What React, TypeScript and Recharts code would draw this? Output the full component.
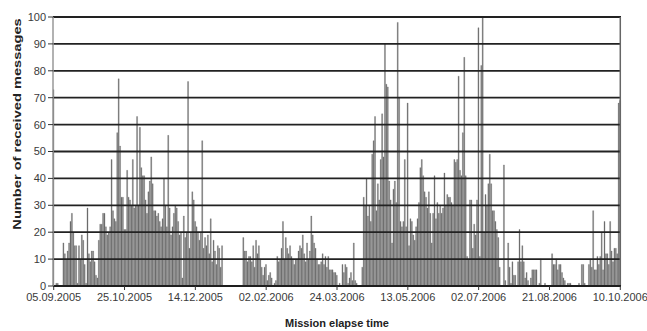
import React, { ReactElement } from 'react';
import { BarChart, Bar, XAxis, YAxis, ReferenceLine, Label } from 'recharts';

// daily message counts, one block of 50 days per x tick (05.09.2005 .. 10.10.2006)
const block0 = [73, 0, 1, 1, 0, 0, 0, 16, 12, 10, 13, 16, 24, 27, 20, 15, 15, 1, 15, 10, 19, 17, 8, 1, 29, 12, 9, 13, 13, 9, 4, 3, 17, 23, 23, 27, 27, 22, 19, 20, 22, 47, 28, 25, 24, 57, 77, 52, 33, 33];
const block1 = [21, 21, 43, 33, 32, 30, 47, 29, 30, 63, 30, 59, 44, 41, 41, 32, 27, 35, 39, 48, 38, 28, 28, 26, 27, 24, 22, 25, 40, 30, 22, 56, 29, 19, 22, 27, 30, 29, 24, 19, 20, 3, 26, 18, 20, 76, 14, 20, 35, 32];
const block2 = [24, 22, 20, 17, 20, 54, 14, 18, 15, 19, 12, 25, 9, 17, 13, 8, 15, 14, 7, 15, 0, 0, 0, 0, 0, 0, 0, 0, 0, 0, 0, 0, 0, 0, 18, 13, 13, 9, 11, 11, 9, 15, 7, 17, 12, 15, 10, 7, 4, 7];
const block3 = [8, 2, 4, 5, 3, 0, 1, 2, 11, 9, 10, 14, 24, 10, 18, 14, 12, 15, 11, 10, 8, 10, 10, 13, 15, 14, 19, 12, 9, 16, 10, 13, 26, 19, 16, 14, 10, 8, 8, 9, 12, 8, 11, 7, 11, 6, 6, 6, 5, 5];
const block4 = [4, 0, 1, 0, 8, 5, 8, 7, 1, 3, 5, 2, 16, 2, 1, 0, 0, 0, 7, 33, 30, 40, 26, 30, 24, 49, 54, 63, 28, 38, 32, 47, 64, 48, 90, 75, 74, 39, 32, 16, 36, 39, 31, 98, 70, 24, 22, 24, 47, 22];
const block5 = [68, 15, 25, 24, 19, 17, 22, 25, 31, 44, 47, 41, 35, 33, 29, 35, 27, 16, 27, 41, 25, 31, 27, 30, 27, 29, 42, 30, 34, 33, 33, 31, 30, 47, 46, 47, 78, 43, 41, 57, 85, 41, 11, 10, 32, 32, 14, 23, 19, 32];
const block6 = [96, 11, 82, 100, 20, 34, 30, 38, 49, 38, 28, 28, 24, 21, 18, 7, 0, 0, 45, 2, 0, 16, 7, 1, 9, 4, 4, 0, 9, 21, 9, 15, 9, 3, 5, 2, 0, 3, 6, 6, 6, 6, 0, 1, 10, 0, 0, 1, 0, 0];
const block7 = [0, 0, 12, 8, 8, 10, 6, 8, 8, 5, 3, 2, 0, 1, 1, 1, 0, 0, 0, 0, 0, 1, 0, 8, 8, 1, 0, 0, 8, 10, 7, 28, 6, 6, 11, 8, 11, 20, 6, 24, 12, 12, 8, 24, 13, 9, 14, 14, 12, 68];
const lastDay = [69];

const tickLabels = ['05.09.2005', '25.10.2005', '14.12.2005', '02.02.2006', '24.03.2006', '13.05.2006', '02.07.2006', '21.08.2006', '10.10.2006'];
const yTicks = [0, 10, 20, 30, 40, 50, 60, 70, 80, 90, 100];

const counts = [...block0, ...block1, ...block2, ...block3, ...block4, ...block5, ...block6, ...block7, ...lastDay];
const data = counts.map((v, i) => ({ day: i, messages: v }));

const font = '"Liberation Sans", Arial, sans-serif';

function App(): ReactElement {
  return (
    <div style={{ position: 'absolute', left: 0, top: 0, background: '#fff' }}>
      <BarChart
        width={647}
        height={331}
        data={data}
        margin={{ top: 17, right: 26, bottom: 0, left: 0 }}
        barCategoryGap={0}
        style={{ fontFamily: font }}
      >
        <XAxis
          dataKey="day"
          type="category"
          interval={49}
          height={45}
          tickFormatter={(d) => tickLabels[Math.round(Number(d) / 50)] ?? ''}
          tick={{ fontSize: 11, fill: '#3a3a3a', fontFamily: font }}
          tickSize={4}
          tickMargin={3}
          tickLine={{ stroke: '#333' }}
          axisLine={{ stroke: '#1e1e1e', strokeWidth: 2 }}
        >
          <Label
            value="Mission elapse time"
            position="insideBottom"
            offset={4}
            style={{ fontSize: 11, fontWeight: 'bold', fill: '#222', fontFamily: font }}
          />
        </XAxis>
        <YAxis
          type="number"
          domain={[0, 100]}
          ticks={yTicks}
          interval={0}
          allowDataOverflow
          width={53}
          tick={{ fontSize: 11, fill: '#3a3a3a', fontFamily: font }}
          tickSize={5}
          tickMargin={2}
          tickLine={{ stroke: '#333' }}
          axisLine={{ stroke: '#999', strokeWidth: 1.5 }}
        >
          <Label
            content={() => (
              <text
                transform="translate(17 124) rotate(-90) scale(1.33 1)"
                textAnchor="middle"
                dominantBaseline="central"
                fontSize={11}
                fontWeight="bold"
                fill="#222"
                fontFamily={font}
              >
                Number of received messages
              </text>
            )}
          />
        </YAxis>
        <Bar dataKey="messages" fill="#6c6c6c" stroke="#6c6c6c" strokeWidth={0.3} isAnimationActive={false} />
        {yTicks.slice(1).map((t) => (
          <ReferenceLine key={t} y={t} stroke="#222" strokeWidth={1.8} />
        ))}
        <ReferenceLine x={400} stroke="#666" strokeWidth={1.5} />
      </BarChart>
    </div>
  );
}

export default App;
